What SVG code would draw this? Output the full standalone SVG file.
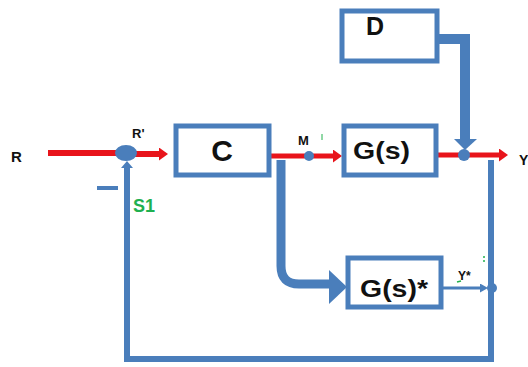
<svg xmlns="http://www.w3.org/2000/svg" width="528" height="367" viewBox="0 0 528 367">
<style>
.box{fill:#fff;stroke:#4a7ebb;stroke-width:5}
.blue{fill:none;stroke:#4a7ebb}
.red{fill:none;stroke:#e8141b}
.lbl{font-family:"Liberation Sans",Arial,sans-serif;font-weight:bold;fill:#111}
.dot{fill:#4a7ebb}
</style>
<defs>
<marker id="ar" markerWidth="9" markerHeight="13" refX="2" refY="6.5" orient="auto" markerUnits="userSpaceOnUse"><path d="M0,0 L9,6.5 L0,13 Z" fill="#e8141b"/></marker>
<marker id="ab" markerWidth="8" markerHeight="9" refX="2" refY="4.5" orient="auto" markerUnits="userSpaceOnUse"><path d="M0,0 L8,4.5 L0,9 Z" fill="#4a7ebb"/></marker>
</defs>
<g id="connectors">
<line class="red" x1="48" y1="153" x2="118" y2="153" stroke-width="6"/>
<line class="red" x1="135" y1="154" x2="161" y2="154" stroke-width="6" marker-end="url(#ar)"/>
<line class="red" x1="270" y1="156" x2="335" y2="156" stroke-width="5" marker-end="url(#ar)"/>
<line class="red" x1="437" y1="155" x2="501" y2="155" stroke-width="5" marker-end="url(#ar)"/>
<path class="blue" d="M438,39 H465 V140" stroke-width="10"/>
<path d="M454,139 L477,139 L465,150 Z" fill="#4a7ebb"/>
<path class="blue" d="M281,160 V266 Q281,284 299,284 H330" stroke-width="9"/>
<path d="M329,270 L347,287 L329,304 Z" fill="#4a7ebb"/>
<line class="blue" x1="442" y1="288" x2="482" y2="288" stroke-width="3" marker-end="url(#ab)"/>
<path class="blue" d="M491,160 V359 H127 V168" stroke-width="6"/>
<path d="M121,168 L133,168 L127,161 Z" fill="#4a7ebb"/>
<line class="blue" x1="97" y1="188" x2="118" y2="188" stroke-width="4"/>
</g>
<g id="sum1"><ellipse cx="126" cy="153" rx="11" ry="8" class="dot"/></g>
<g id="M"><circle cx="309" cy="156" r="5" class="dot"/></g>
<g id="sum2"><circle cx="464" cy="155" r="6" class="dot"/></g>
<g id="ydot"><circle cx="492" cy="288" r="5" class="dot"/></g>
<g id="C"><rect class="box" x="176" y="126" width="93" height="49"/><text class="lbl" x="222" y="161" font-size="30" text-anchor="middle">C</text></g>
<g id="G"><rect class="box" x="344" y="126" width="92" height="49"/><text class="lbl" x="353" y="159" font-size="23" textLength="57" lengthAdjust="spacingAndGlyphs">G(s)</text></g>
<g id="D"><rect class="box" x="342" y="11" width="95" height="50"/><text class="lbl" x="375" y="35" font-size="25" text-anchor="middle">D</text></g>
<g id="Gstar"><rect class="box" x="348" y="258" width="93" height="49" stroke-width="4"/><text class="lbl" x="360" y="297" font-size="24" textLength="68" lengthAdjust="spacingAndGlyphs">G(s)*</text></g>
<g id="labels">
<text class="lbl" x="11" y="162" font-size="15">R</text>
<text class="lbl" x="132" y="138" font-size="13">R'</text>
<text class="lbl" x="298" y="145" font-size="13">M</text>
<line x1="322" y1="134" x2="322" y2="140" stroke="#22b14c" stroke-width="1"/>
<text class="lbl" x="519" y="165" font-size="14">Y</text>
<text class="lbl" x="458" y="280" font-size="12">Y*</text>
<line x1="457" y1="282" x2="461" y2="281" stroke="#22b14c" stroke-width="1.5"/>
<line x1="484" y1="256" x2="484" y2="264" stroke="#22b14c" stroke-width="1.5" stroke-dasharray="2,2"/>
<text x="133" y="212" font-family="Liberation Sans,Arial,sans-serif" font-weight="bold" font-size="18" fill="#1fb050">S1</text>
</g>
</svg>
